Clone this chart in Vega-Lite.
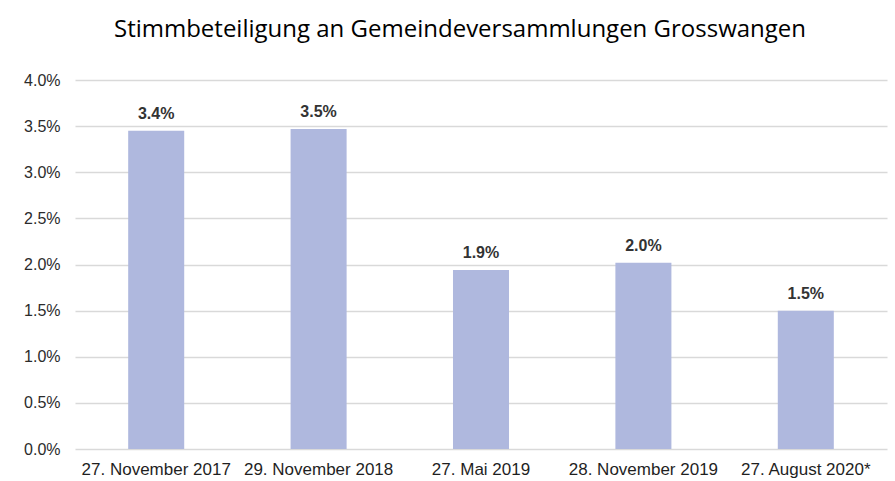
{
  "$schema": "https://vega.github.io/schema/vega-lite/v6.json",
  "width": 812,
  "height": 369,
  "autosize": {"type": "none"},
  "padding": {"left": 75, "top": 80, "right": 8, "bottom": 32},
  "background": "white",
  "title": {
    "text": "Stimmbeteiligung an Gemeindeversammlungen  Grosswangen",
    "font": "Open Sans",
    "fontSize": 24,
    "fontWeight": "normal",
    "color": "#000000",
    "anchor": "middle",
    "frame": "group",
    "offset": 30,
    "dx": -21
  },
  "data": {
    "values": [
      {"datum": "27. November 2017", "value": 0.0345, "label": "3.4%"},
      {"datum": "29. November 2018", "value": 0.0347, "label": "3.5%"},
      {"datum": "27. Mai 2019", "value": 0.0194, "label": "1.9%"},
      {"datum": "28. November 2019", "value": 0.0202, "label": "2.0%"},
      {"datum": "27. August 2020*", "value": 0.0150, "label": "1.5%"}
    ]
  },
  "encoding": {
    "x": {
      "field": "datum",
      "type": "nominal",
      "sort": null,
      "scale": {"paddingInner": 0.655, "paddingOuter": 0.3275},
      "axis": {
        "title": null,
        "labelAngle": 0,
        "labelFont": "Liberation Sans",
        "labelFontSize": 17,
        "labelColor": "#1f1f1f",
        "labelPadding": 12,
        "ticks": false,
        "domain": false,
        "grid": false
      }
    },
    "y": {
      "field": "value",
      "type": "quantitative",
      "scale": {"domain": [0, 0.04]},
      "axis": {
        "title": null,
        "format": ".1%",
        "values": [0, 0.005, 0.01, 0.015, 0.02, 0.025, 0.03, 0.035, 0.04],
        "labelFont": "Liberation Sans",
        "labelFontSize": 16,
        "labelColor": "#2b2b2b",
        "labelPadding": 15,
        "ticks": false,
        "domain": false,
        "grid": true,
        "gridColor": "#d9d9d9",
        "gridWidth": 1.5
      }
    }
  },
  "layer": [
    {"mark": {"type": "bar", "color": "#afb8de"}},
    {
      "mark": {
        "type": "text",
        "baseline": "alphabetic",
        "dy": -12,
        "font": "Liberation Sans",
        "fontSize": 16,
        "fontWeight": "bold",
        "color": "#333333"
      },
      "encoding": {"text": {"field": "label"}}
    }
  ],
  "config": {"view": {"stroke": null}}
}
